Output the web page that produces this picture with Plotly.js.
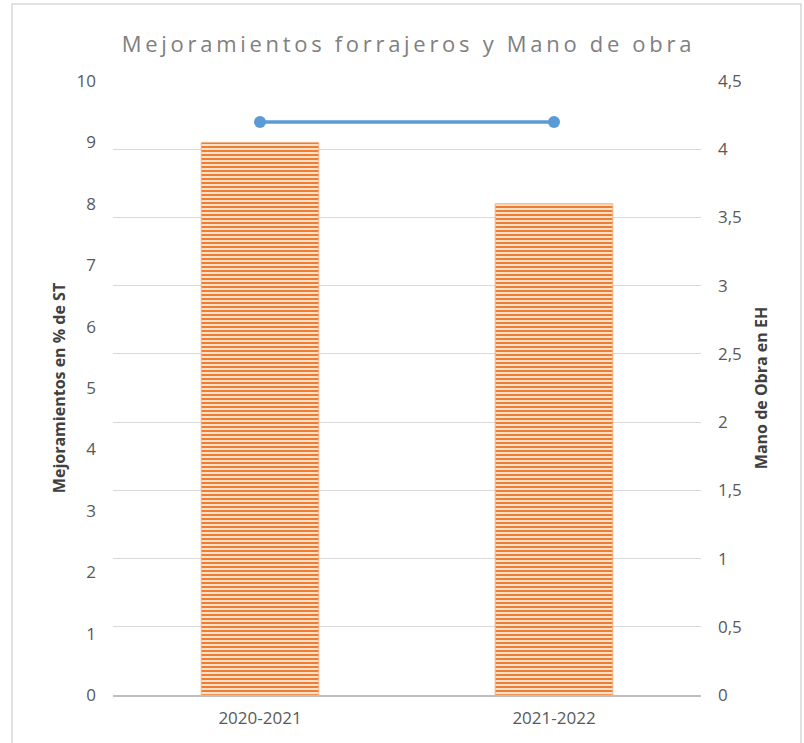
<!DOCTYPE html>
<html>
<head>
<meta charset="utf-8">
<script src="https://cdn.plot.ly/plotly-3.0.1.min.js"></script>
<style>
html,body{margin:0;padding:0;background:#fff;}
#chart{width:804px;height:743px;}
.gtitle{letter-spacing:3.7px;}
</style>
</head>
<body>
<div id="chart"></div>
<script>
const categories = ["2020-2021", "2021-2022"];
const mejoramientos = [9.0, 8.0];
const manoDeObra = [4.2, 4.2];
const leftTicks = [0,1,2,3,4,5,6,7,8,9,10];
const rightTicks = [0,0.5,1,1.5,2,2.5,3,3.5,4,4.5];

const font = "'Open Sans', 'Liberation Sans', sans-serif";

const bars = {
  type: 'bar', x: categories, y: mejoramientos, yaxis: 'y', width: 0.4,
  marker: {color: '#F8CBAD', line: {color: '#F4B183', width: 1},
    pattern: {shape: '-', fgcolor: '#ED7D31', bgcolor: '#FBE0CC', size: 4, solidity: 0.5}},
  hoverinfo: 'x+y'
};
const line = {
  type: 'scatter', mode: 'lines+markers', x: categories, y: manoDeObra, yaxis: 'y2',
  line: {color: '#5B9BD5', width: 3.5}, marker: {color: '#5B9BD5', size: 12}
};

const layout = {
  width: 804, height: 743,
  margin: {l: 113, r: 103, t: 81, b: 48},
  paper_bgcolor: '#fff', plot_bgcolor: '#fff',
  separators: ',.',
  showlegend: false,
  font: {family: font, color: '#595959', size: 17},
  title: {text: 'Mejoramientos forrajeros y Mano de obra', x: 0.508, xanchor: 'center', y: 0.94, yanchor: 'middle',
    font: {family: font, size: 22, color: '#7F7F7F'}},
  xaxis: {type: 'category', range: [-0.5, 1.5], showgrid: false, showline: true, linecolor: '#BFBFBF', linewidth: 2,
    ticks: '', ticklabelstandoff: 7, tickfont: {size: 17, color: '#595959'}, zeroline: false},
  yaxis: {range: [0, 10], tickvals: leftTicks, showgrid: false, zeroline: false, showline: false,
    ticks: '', ticklabelstandoff: 16, tickfont: {size: 17, color: '#595959'},
    title: {text: '<b>Mejoramientos en % de ST</b>', standoff: 6, font: {size: 16, color: '#404040'}}},
  yaxis2: {range: [0, 4.5], tickvals: rightTicks, overlaying: 'y', side: 'right', showgrid: true,
    gridcolor: '#D9D9D9', gridwidth: 1, zeroline: false, showline: false, ticks: '', ticklabelstandoff: 16,
    tickfont: {size: 17, color: '#595959'},
    title: {text: '<b>Mano de Obra en EH</b>', standoff: 14, font: {size: 16, color: '#404040'}}},
  shapes: [{type: 'rect', xref: 'paper', yref: 'paper', x0: -0.1718, x1: 1.170, y0: -0.09, y1: 1.1254,
    line: {color: '#D9D9D9', width: 1.5}, fillcolor: 'rgba(0,0,0,0)', layer: 'below'}]
};

Plotly.newPlot('chart', [bars, line], layout, {displayModeBar: false, staticPlot: true});
</script>
</body>
</html>
